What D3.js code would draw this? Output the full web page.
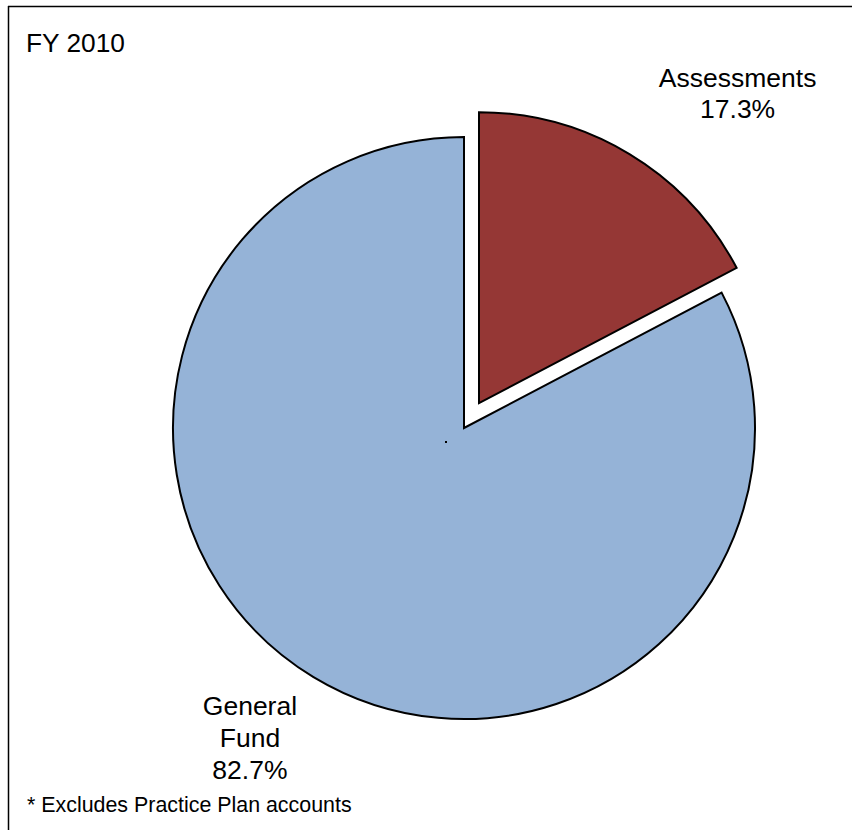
<!DOCTYPE html>
<html>
<head>
<meta charset="utf-8">
<script src="https://cdn.jsdelivr.net/npm/d3@7"></script>
<style>
  html, body { margin: 0; padding: 0; background: #fff; }
  svg { display: block; font-family: "Liberation Sans", Arial, sans-serif; }
</style>
</head>
<body>
<svg id="chart" width="852" height="830"></svg>
<script>
// Funding sources, FY 2010
const categories = ["Assessments", "General Fund"];
const values = [17.3, 82.7];
const labelLines = [["Assessments"], ["General", "Fund"]];
const colors = ["#953735", "#95B3D7"];
const title = "FY 2010";
const footnote = "* Excludes Practice Plan accounts";

const svg = d3.select("#chart");
const W = 852, H = 830;

// frame: top and left rules
svg.append("line").attr("x1", 8).attr("y1", 6.5).attr("x2", W).attr("y2", 6.5)
  .attr("stroke", "#000").attr("stroke-width", 1.5);
svg.append("line").attr("x1", 8.5).attr("y1", 6).attr("x2", 8.5).attr("y2", H)
  .attr("stroke", "#000").attr("stroke-width", 1.5);

const cx = 464, cy = 428, R = 291;
const explode = 29;

const pie = d3.pie().sort(null).startAngle(0).endAngle(2 * Math.PI);
const arcs = pie(values);
const arc = d3.arc().innerRadius(0).outerRadius(R);

const g = svg.append("g").attr("transform", `translate(${cx},${cy})`);

arcs.forEach((a, i) => {
  const mid = (a.startAngle + a.endAngle) / 2;
  const off = i === 0 ? explode : 0;
  const dx = Math.sin(mid) * off, dy = -Math.cos(mid) * off;
  g.append("path")
    .attr("d", arc(a))
    .attr("transform", `translate(${dx},${dy})`)
    .attr("fill", colors[i])
    .attr("stroke", "#000")
    .attr("stroke-width", 2)
    .attr("stroke-linejoin", "miter");
});

// small center marker
g.append("rect").attr("x", -19).attr("y", 13).attr("width", 2).attr("height", 2).attr("fill", "#000");

// labels placed in polar coordinates around the pie
const labelPolar = [
  { angle: 39.3, r: 432 },
  { angle: 214.6, r: 377 }
];
const lineStep = [31, 32];
arcs.forEach((a, i) => {
  const ang = labelPolar[i].angle * Math.PI / 180;
  const lx = Math.sin(ang) * labelPolar[i].r;
  const ly = -Math.cos(ang) * labelPolar[i].r;
  const lines = labelLines[i].concat([d3.format(".1f")(values[i]) + "%"]);
  const n = lines.length;
  const t = g.append("text")
    .attr("text-anchor", "middle")
    .attr("font-size", 26.5)
    .attr("fill", "#000");
  lines.forEach((s, k) => {
    t.append("tspan")
      .attr("x", lx)
      .attr("y", ly + (k - (n - 1) / 2) * lineStep[i] + 9)
      .text(s);
  });
});

svg.append("text").attr("x", 26).attr("y", 52).attr("font-size", 26.3).attr("fill", "#000").text(title);
svg.append("text").attr("x", 27).attr("y", 812).attr("font-size", 21.4).attr("fill", "#000").text(footnote);
</script>
</body>
</html>
